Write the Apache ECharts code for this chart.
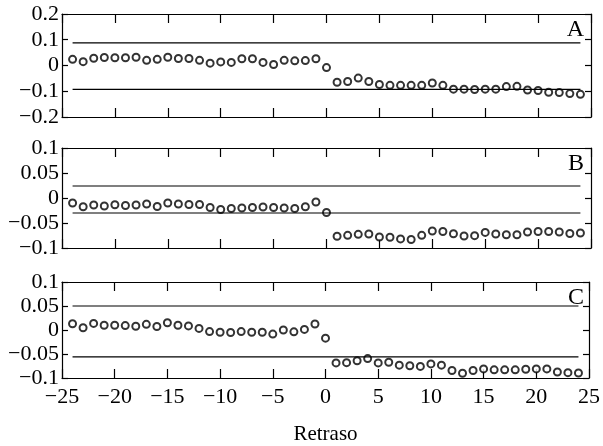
<!DOCTYPE html>
<html>
<head>
<meta charset="utf-8">
<script src="https://cdn.jsdelivr.net/npm/echarts@6/dist/echarts.min.js"></script>
<style>html,body{margin:0;padding:0;background:#fff;}#c{width:603px;height:446px;}</style>
</head>
<body>
<div id="c"></div>
<script>
var lags = [-24,-23,-22,-21,-20,-19,-18,-17,-16,-15,-14,-13,-12,-11,-10,-9,-8,-7,-6,-5,-4,-3,-2,-1,0,1,2,3,4,5,6,7,8,9,10,11,12,13,14,15,16,17,18,19,20,21,22,23,24];
var valuesA = [0.024,0.015,0.028,0.031,0.030,0.030,0.032,0.020,0.024,0.032,0.027,0.027,0.020,0.009,0.014,0.012,0.026,0.026,0.012,0.004,0.020,0.018,0.019,0.026,-0.008,
  -0.065,-0.062,-0.049,-0.062,-0.074,-0.077,-0.077,-0.077,-0.077,-0.068,-0.077,-0.092,-0.092,-0.093,-0.092,-0.092,-0.082,-0.081,-0.095,-0.097,-0.104,-0.105,-0.109,-0.112];
var valuesB = [-0.010,-0.0175,-0.014,-0.016,-0.0136,-0.015,-0.014,-0.012,-0.017,-0.010,-0.012,-0.013,-0.013,-0.019,-0.023,-0.021,-0.020,-0.019,-0.018,-0.019,-0.020,-0.021,-0.0175,-0.008,-0.029,
  -0.0766,-0.0747,-0.0727,-0.072,-0.078,-0.0786,-0.0818,-0.083,-0.0747,-0.066,-0.067,-0.0714,-0.076,-0.0753,-0.0688,-0.072,-0.0734,-0.0734,-0.068,-0.067,-0.067,-0.068,-0.071,-0.070];
var valuesC = [0.013,0.0046,0.0137,0.0098,0.0098,0.0092,0.0078,0.0118,0.0072,0.015,0.0098,0.0085,0.0033,-0.0033,-0.0046,-0.0052,-0.0033,-0.0046,-0.0046,-0.0085,0.0,-0.0039,0.0013,0.0124,-0.017,
  -0.0686,-0.068,-0.064,-0.0595,-0.0686,-0.0673,-0.0732,-0.0745,-0.0758,-0.0706,-0.0732,-0.0843,-0.0902,-0.0843,-0.081,-0.083,-0.083,-0.083,-0.0817,-0.081,-0.081,-0.0876,-0.0889,-0.0895];
var boundsA = [0.088, -0.093];
var boundsB = [0.024, -0.030];
var boundsC = [0.050, -0.056];
var panelLabels = ['A','B','C'];
var xTicks = {min:-25, max:25, interval:5};
var yRangeA = {min:-0.2, max:0.2, interval:0.1};
var yRangeBC = {min:-0.1, max:0.1, interval:0.05};
var xTitle = 'Retraso';

var FONT = 'Liberation Serif';
var chart = echarts.init(document.getElementById('c'), null, {renderer:'canvas'});
var grids = [
  {left:62, right:12, top:14, height:103},
  {left:62, right:12, top:148, height:100},
  {left:62, right:12, top:282, height:101}
];
function fmt(v){ return String(+v.toFixed(3)).replace('-', '\u2212'); }
var lineStyle = {color:'#000', width:1.2};
var xAxes = [], yAxes = [], series = [];
var datasets = [valuesA, valuesB, valuesC];
var bounds = [boundsA, boundsB, boundsC];
var yr = [yRangeA, yRangeBC, yRangeBC];
for (var g = 0; g < 3; g++) {
  var last = g === 2;
  xAxes.push({gridIndex:g, type:'value', position:'bottom', min:xTicks.min, max:xTicks.max, interval:xTicks.interval,
    axisLine:{show:true, onZero:false, lineStyle:lineStyle}, axisTick:{show:true, inside:true, length:9, lineStyle:lineStyle},
    axisLabel:{show:last, formatter:fmt, color:'#000', fontFamily:FONT, fontSize:22, margin:8},
    splitLine:{show:false},
    name: last ? xTitle : '', nameLocation:'middle', nameGap:46,
    nameTextStyle:{color:'#000', fontFamily:FONT, fontSize:21}});
  xAxes.push({gridIndex:g, type:'value', position:'top', min:xTicks.min, max:xTicks.max, interval:xTicks.interval,
    axisLine:{show:true, onZero:false, lineStyle:lineStyle}, axisTick:{show:true, inside:true, length:9, lineStyle:lineStyle},
    axisLabel:{show:false}, splitLine:{show:false}});
  yAxes.push({gridIndex:g, type:'value', position:'left', min:yr[g].min, max:yr[g].max, interval:yr[g].interval,
    axisLine:{show:true, onZero:false, lineStyle:lineStyle}, axisTick:{show:true, inside:true, length:6, lineStyle:lineStyle},
    axisLabel:{show:true, formatter:fmt, color:'#000', fontFamily:FONT, fontSize:22, margin:3},
    splitLine:{show:false}});
  yAxes.push({gridIndex:g, type:'value', position:'right', min:yr[g].min, max:yr[g].max, interval:yr[g].interval,
    axisLine:{show:true, onZero:false, lineStyle:lineStyle}, axisTick:{show:true, inside:true, length:6, lineStyle:lineStyle},
    axisLabel:{show:false}, splitLine:{show:false}});
  var first = lags[0], lastLag = lags[lags.length-1];
  for (var b = 0; b < 2; b++) {
    series.push({type:'line', xAxisIndex:2*g, yAxisIndex:2*g, symbol:'none', silent:true, animation:false,
      lineStyle:{color:'#000', width:1.2},
      data:[[first, bounds[g][b]], [lastLag, bounds[g][b]]]});
  }
  series.push({type:'scatter', xAxisIndex:2*g, yAxisIndex:2*g, symbol:'emptyCircle', symbolSize:7, animation:false,
    itemStyle:{color:'#000', borderColor:'#000', borderWidth:1},
    data: lags.map(function(l, i){ return [l, datasets[g][i]]; })});
}
var graphics = panelLabels.map(function(t, i){
  return {type:'text', right:19, top:grids[i].top + 4,
    style:{text:t, font:'24px "' + FONT + '"', fill:'#000'}};
});
chart.setOption({
  animation:false,
  backgroundColor:'#fff',
  grid:grids,
  xAxis:xAxes,
  yAxis:yAxes,
  series:series,
  graphic:graphics
});
</script>
</body>
</html>
